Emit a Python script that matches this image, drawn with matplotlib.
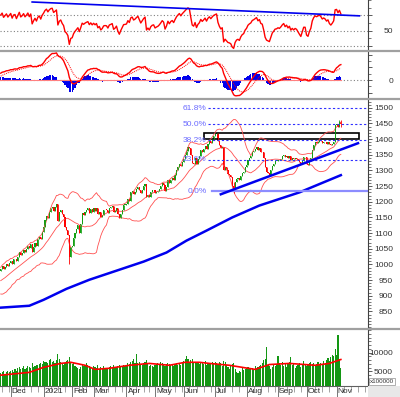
import numpy as np
import pandas as pd
import matplotlib
matplotlib.use("Agg")
import matplotlib.pyplot as plt
import matplotlib.transforms as mtransforms
from matplotlib.lines import Line2D
from matplotlib.patches import Rectangle
from matplotlib.ticker import FixedLocator, MultipleLocator

plt.rcParams['font.family'] = ['Liberation Sans', 'DejaVu Sans']
plt.rcParams['font.size'] = 6

# ---- trading calendar -------------------------------------------------------
holidays = ["2021-01-01", "2021-02-10", "2021-02-11", "2021-02-12", "2021-02-15",
            "2021-02-16", "2021-04-21", "2021-04-30", "2021-05-03", "2021-09-02",
            "2021-09-03"]

# ---- daily closes (warm-up days Oct 15 - Nov 19 2020 are only used by indicators)
warmup_close = [943, 947, 940, 944, 946, 935, 938, 932, 930, 921, 926, 918, 927,
                931, 925, 942, 946, 940, 958, 963, 955, 967, 974, 965, 980, 978]
close_nov20 = [985, 994, 986, 993, 1001, 995, 1003]
close_dec20 = [1011, 1002, 1016, 1018, 1010, 1023, 1040, 1030, 1036, 1047, 1040, 1048,
               1060, 1052, 1066, 1040, 1055, 1068, 1060, 1081, 1089, 1080, 1104]
close_jan21 = [1120, 1143, 1156, 1148, 1167, 1180, 1184, 1172, 1182, 1194, 1140, 1166,
               1175, 1160, 1150, 1118, 1110, 1095, 1023, 1056]
close_feb21 = [1060, 1085, 1100, 1112, 1125, 1100, 1128, 1165, 1158, 1168, 1175, 1180,
               1165, 1178, 1168]
close_mar21 = [1179, 1172, 1180, 1160, 1168, 1151, 1158, 1173, 1175, 1174, 1165, 1180,
               1183, 1187, 1166, 1171, 1180, 1160, 1147, 1162, 1175, 1190, 1191]
close_apr21 = [1193, 1210, 1204, 1230, 1235, 1226, 1231, 1240, 1247, 1238, 1228, 1239,
               1250, 1258, 1214, 1223, 1215, 1230, 1237, 1239]
close_may21 = [1228, 1232, 1235, 1241, 1249, 1259, 1255, 1234, 1246, 1268, 1260, 1271,
               1276, 1270, 1285, 1300, 1311, 1321, 1315, 1328]
close_jun21 = [1338, 1350, 1363, 1374, 1372, 1350, 1325, 1321, 1339, 1320, 1336, 1345,
               1365, 1358, 1367, 1378, 1368, 1385, 1395, 1389, 1400, 1410]
close_jul21 = [1415, 1420, 1395, 1381, 1371, 1376, 1300, 1312, 1300, 1288, 1285, 1278,
               1252, 1240, 1262, 1272, 1275, 1268, 1282, 1291, 1295, 1310]
close_aug21 = [1318, 1333, 1340, 1345, 1358, 1362, 1368, 1374, 1365, 1371, 1360, 1358,
               1340, 1310, 1295, 1291, 1287, 1300, 1315, 1322, 1330, 1331]
close_sep21 = [1335, 1333, 1338, 1345, 1350, 1342, 1347, 1340, 1345, 1335, 1340, 1336,
               1340, 1338, 1332, 1326, 1320, 1330, 1342, 1342]
close_oct21 = [1322, 1318, 1330, 1339, 1365, 1381, 1390, 1388, 1392, 1396, 1393, 1388,
               1392, 1390, 1386, 1390, 1383, 1380, 1385, 1392, 1444]
close_nov21 = [1447, 1440, 1456, 1448]

# a few long shadows (day index, low, high)
wick_days = [48, 163, 237, 238]
wick_lows = [1000, 1227, 1440, 1440]
wick_highs = [1095, 1262, 1460, 1461]

# ---- volume (x100000) ------------------------------------------------------
vol_nov20 = [4600, 4900, 5200, 4300, 4700, 5100, 4800]
vol_dec20 = [5000, 5300, 4900, 5600, 5200, 5800, 6100, 5500, 5900, 6300, 5700, 6000,
             6500, 6200, 5800, 7200, 6100, 6400, 6800, 6600, 7000, 7300, 6900]
vol_jan21 = [7800, 7400, 7600, 7100, 7900, 8200, 7500, 7700, 7300, 8000, 9600, 8300,
             7400, 7000, 6800, 7200, 7800, 8100, 8900, 7600]
vol_feb21 = [7000, 7300, 6500, 6100, 5800, 5600, 6200, 6900, 6400, 6600, 7100, 6800,
             6300, 6000, 5900]
vol_mar21 = [6400, 6100, 5900, 6600, 5700, 6200, 5800, 6300, 6000, 5600, 5900, 6200,
             6400, 6100, 6700, 5800, 6000, 6300, 6800, 6500, 6200, 6600, 6400]
vol_apr21 = [6800, 7200, 6900, 7400, 7800, 8200, 7100, 9700, 7300, 7600, 7000, 6600,
             7200, 7500, 8100, 6900, 6500, 6700, 6300, 6100]
vol_may21 = [6600, 6900, 7200, 6800, 7400, 7100, 6700, 6500, 6900, 7300, 7000, 6800,
             6600, 6400, 6900, 7200, 6800, 7000, 6700, 7300]
vol_jun21 = [7800, 8400, 9000, 8200, 7600, 7900, 8300, 7400, 7100, 7600, 7300, 6900,
             7200, 7500, 7000, 7700, 6800, 7300, 7100, 6900, 7400, 7200]
vol_jul21 = [7500, 7100, 6800, 7600, 7200, 6500, 7800, 7400, 6600, 6200, 5700, 6300,
             6900, 7300, 5600, 4900, 4500, 5200, 4800, 5900, 5300, 5500]
vol_aug21 = [5800, 6200, 5600, 6000, 5900, 5400, 6300, 5700, 6100, 6500, 6800, 7300,
             7900, 8200, 11600, 6600, 6400, 5500, 6100, 6700, 6300, 6900]
vol_sep21 = [9000, 7200, 6800, 7400, 6500, 7100, 6200, 6900, 7600, 8800, 6600, 7000,
             5900, 6300, 6800, 7300, 6100, 6600, 7700, 6900]
vol_oct21 = [6400, 6800, 7100, 7500, 6900, 7300, 6700, 7000, 7400, 6600, 7100, 6900,
             7800, 7200, 8100, 8500, 7700, 8700, 9300, 9100, 11000]
vol_nov21 = [9400, 14700, 8200, 5800]

# moving averages (day index, value)
ma200_days = [0, 20, 30, 46, 62, 81, 100, 116, 130, 144, 162, 181, 209, 238]
ma200_vals = [862, 868, 887, 922, 951, 980, 1009, 1038, 1076, 1108, 1150, 1188, 1230, 1285]
volma_days = [0, 20, 30, 42, 49, 59, 66, 76, 90, 104, 118, 129, 139, 146, 160, 178,
              188, 202, 220, 230, 238]
volma_vals = [3950, 4700, 6050, 7100, 7400, 6600, 5500, 5800, 6600, 7100, 6600, 7400,
              7400, 7100, 6600, 5500, 6800, 7100, 6600, 7100, 8150]

# analyst drawings
fib_base, fib_top = 1233, 1663
fib_ratios = [0.0, 0.236, 0.382, 0.5, 0.618]
fib_labels = ["0.0%", "23.6%", "38.2%", "50.0%", "61.8%"]
fib_start = 145
box_days, box_prices = [142, 251], [1400, 1419]
support_days, support_prices = [154, 250], [1224, 1387]
rsi_trend_days, rsi_trend_vals = [22, 251], [87.4, 69.4]

# ---- assemble ----------------------------------------------------------------
visible_close = (close_nov20 + close_dec20 + close_jan21 + close_feb21 + close_mar21 +
                 close_apr21 + close_may21 + close_jun21 + close_jul21 + close_aug21 +
                 close_sep21 + close_oct21 + close_nov21)
volume = np.array(vol_nov20 + vol_dec20 + vol_jan21 + vol_feb21 + vol_mar21 + vol_apr21 +
                  vol_may21 + vol_jun21 + vol_jul21 + vol_aug21 + vol_sep21 + vol_oct21 +
                  vol_nov21)
assert len(volume) == len(visible_close)

dates = pd.bdate_range("2020-10-15", "2021-11-30")
dates = dates[~dates.isin(pd.to_datetime(holidays))]
n_warm = len(warmup_close)
s = pd.Series(warmup_close + visible_close, dtype=float)
idx_all = np.arange(len(dates)) - n_warm
idx = idx_all[:len(s)]
vis = idx >= 0
close = s.values
opens = np.r_[close[0], close[:-1]]

# indicators
mid = s.rolling(20).mean()
sd = s.rolling(20).std(ddof=0)
upper, lower = mid + 2 * sd, mid - 2 * sd
macd = s.ewm(span=12, adjust=False).mean() - s.ewm(span=26, adjust=False).mean()
signal = macd.ewm(span=9, adjust=False).mean()
hist = macd - signal
delta = s.diff()
gain = delta.clip(lower=0).ewm(alpha=1 / 14, adjust=False).mean()
loss = (-delta.clip(upper=0)).ewm(alpha=1 / 14, adjust=False).mean()
rsi = 100 - 100 / (1 + gain / loss)

# ---- figure ------------------------------------------------------------------
W, H = 400, 397
fig = plt.figure(figsize=(W / 100, H / 100), dpi=100)
right = 368 / W

def panel(top, bottom):
    return fig.add_axes([0, 1 - bottom / H, right, (bottom - top) / H])

ax_rsi = panel(0, 50)
ax_macd = panel(52, 98)
ax_p = panel(100, 328)
ax_v = panel(330, 386)
xlim = (-0.5, 257)
last_frac = (idx[-1] - xlim[0]) / (xlim[1] - xlim[0])

for ax in (ax_rsi, ax_macd, ax_p, ax_v):
    ax.set_xlim(*xlim)
    for side in ("top", "left", "bottom"):
        ax.spines[side].set_visible(False)
    ax.spines["right"].set_color("#404040")
    ax.spines["right"].set_linewidth(0.8)
    ax.yaxis.tick_right()
    ax.tick_params(axis="y", which="major", direction="out", length=3, width=0.6,
                   colors="#404040", pad=15, labelcolor="#333333", labelsize=6)
    ax.tick_params(axis="y", which="minor", direction="out", length=2, width=0.5,
                   colors="#404040")
    ax.tick_params(axis="x", which="both", bottom=False, labelbottom=False)

# RSI panel
ax_rsi.set_ylim(25, 90)
for lvl in (30, 50, 70):
    ax_rsi.axhline(lvl, color="#808080", lw=0.8, ls=(0, (1, 2)))
ax_rsi.plot(idx[vis], rsi[vis], color="#ff0000", lw=1.0)
ax_rsi.plot(rsi_trend_days, rsi_trend_vals, color="#0000ee", lw=1.2)
ax_rsi.yaxis.set_major_locator(FixedLocator([30, 50, 70]))
ax_rsi.set_yticklabels(["", "50", ""])
ax_rsi.yaxis.set_minor_locator(MultipleLocator(10))

# MACD panel
ax_macd.set_ylim(-28, 44)
ax_macd.axhline(0, color="#808080", lw=0.8, ls=(0, (1, 2)))
ax_macd.axhline(0, xmax=last_frac, color="#ff8080", lw=0.8)
ax_macd.bar(idx[vis], hist[vis], width=0.9, color="#0000ee", linewidth=0)
ax_macd.plot(idx[vis], macd[vis], color="#ff0000", lw=1.0)
ax_macd.plot(idx[vis], signal[vis], color="#ff0000", lw=0.7, ls=(0, (1, 1)))
ax_macd.yaxis.set_major_locator(FixedLocator([-20, 0, 20, 40]))
ax_macd.set_yticklabels(["", "0", "", ""])
ax_macd.yaxis.set_minor_locator(MultipleLocator(10))

# price panel
ax_p.set_ylim(797, 1525)
ax_p.plot(idx[vis], upper[vis], color="#ff5050", lw=0.6)
ax_p.plot(idx[vis], mid[vis], color="#ff5050", lw=0.6)
ax_p.plot(idx[vis], lower[vis], color="#ff5050", lw=0.6)
ax_p.plot(ma200_days, ma200_vals, color="#0000ee", lw=1.8)

hi = np.maximum(opens, close)
lo = np.minimum(opens, close)
for d, l, h in zip(wick_days, wick_lows, wick_highs):
    lo[d + n_warm] = min(lo[d + n_warm], l)
    hi[d + n_warm] = max(hi[d + n_warm], h)
up = close >= opens
col = np.where(up, "#13a013", "#ff0000")
ax_p.vlines(idx[vis], lo[vis], hi[vis], colors=col[vis], lw=0.6)
body = np.maximum(np.abs(close - opens), 1.5)
ax_p.bar(idx[vis], body[vis], bottom=np.minimum(opens, close)[vis], width=0.8,
         color=col[vis], linewidth=0)

fib_levels = [fib_base + r * (fib_top - fib_base) for r in fib_ratios]
for lvl, lab in zip(fib_levels, fib_labels):
    if lab == "0.0%":
        ax_p.plot([fib_start + 3, xlim[1]], [lvl, lvl], color="#8c8cff", lw=1.6)
    else:
        ax_p.plot([fib_start, xlim[1]], [lvl, lvl], color="#3030ff", lw=0.8,
                  ls=(0, (2, 2)))
    ax_p.text(fib_start - 1, lvl, lab, color="#6a6aff", ha="right", va="center",
              fontsize=6)

ax_p.plot(support_days, support_prices, color="#0000ee", lw=1.8)
ax_p.add_patch(Rectangle((box_days[0], box_prices[0]), box_days[1] - box_days[0],
                         box_prices[1] - box_prices[0], fill=False, ec="black", lw=1.2))
ax_p.yaxis.set_major_locator(FixedLocator(np.arange(850, 1501, 50)))
ax_p.yaxis.set_minor_locator(MultipleLocator(10))

# volume panel
ax_v.set_ylim(1050, 16050)
ax_v.bar(idx[vis], volume, width=0.8, color="#139613", linewidth=0)
ax_v.plot(volma_days, volma_vals, color="#ff0000", lw=1.2)
ax_v.yaxis.set_major_locator(FixedLocator([5000, 10000]))
ax_v.yaxis.set_minor_locator(MultipleLocator(1000))
ax_v.spines["bottom"].set_visible(True)
ax_v.spines["bottom"].set_color("#606060")
ax_v.spines["bottom"].set_linewidth(0.8)

for ax in (ax_rsi, ax_macd, ax_p, ax_v):
    plt.setp(ax.get_yticklabels(), ha="right")

# month / week ticks along the bottom
dser = pd.Series(dates)
in_view = (idx_all >= xlim[0]) & (idx_all <= xlim[1])
month_start = (dser.dt.month != dser.shift().dt.month).values & in_view & (idx_all > 0)
week_start = (dser.dt.isocalendar().week.values != dser.shift().dt.isocalendar().week.values) & in_view
ax_v.set_xticks(idx_all[month_start])
ax_v.set_xticks(idx_all[week_start], minor=True)
ax_v.tick_params(axis="x", which="major", bottom=True, length=8, width=0.6, color="#606060")
ax_v.tick_params(axis="x", which="minor", bottom=True, length=4, width=0.5, color="#808080")
blend = mtransforms.blended_transform_factory(ax_v.transData, ax_v.transAxes)
for i in idx_all[month_start]:
    d = dates[i + n_warm]
    lab = str(d.year) if d.month == 1 else d.strftime("%b")
    ax_v.text(i + 0.8, -0.03, lab, transform=blend, ha="left", va="top", fontsize=6,
              color="#333333")

# panel separators and decorations
for y in (51, 99, 329):
    fig.add_artist(Line2D([0, 1], [1 - y / H, 1 - y / H], color="#a0a0a0", lw=1.6))
fig.add_artist(Rectangle((right, 0), 1 - right, 11 / H, color="#e8e8e8", lw=0))
fig.text(382 / W, 1 - 381.5 / H, "x100000", ha="center", va="center", fontsize=4.5,
         color="#333333",
         bbox=dict(boxstyle="square,pad=0.15", fc="white", ec="#909090", lw=0.5))

fig.savefig("out.png", dpi=100)
